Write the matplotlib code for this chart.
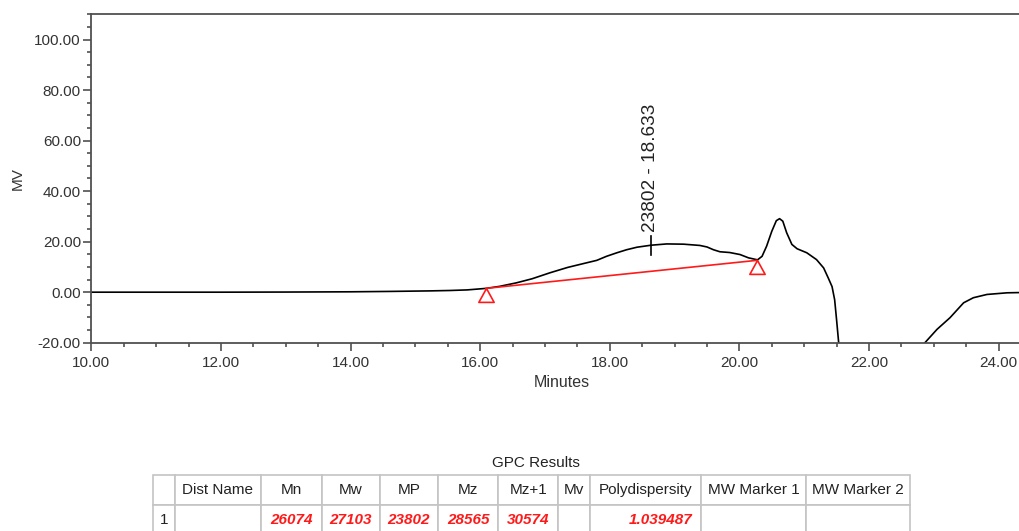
import matplotlib
matplotlib.use('Agg')
import matplotlib.pyplot as plt
from matplotlib.ticker import MultipleLocator, FormatStrFormatter
import numpy as np

plt.rcParams['font.family'] = ['Liberation Sans', 'DejaVu Sans']

# cromatograma (minutos, mV)
minutos = [10.0, 11.0, 12.0, 13.0, 14.0, 14.6, 15.2, 15.535, 15.8, 16.09,
           16.3, 16.56, 16.8, 17.08, 17.35, 17.59, 17.80, 17.95, 18.11, 18.26,
           18.42, 18.64, 18.88, 19.14, 19.39, 19.50, 19.60, 19.70, 19.85, 20.01,
           20.14, 20.28, 20.35, 20.42, 20.50, 20.57, 20.62, 20.67, 20.73, 20.81,
           20.89, 21.04, 21.19, 21.30, 21.37, 21.43, 21.47, 21.50, 21.53, 21.58,
           22.70, 22.87, 23.05, 23.25, 23.46, 23.61, 23.82, 24.13, 24.53]
senal = [0.0, 0.0, 0.0, 0.05, 0.15, 0.3, 0.5, 0.67, 0.9, 1.5,
         2.3, 3.7, 5.3, 7.7, 9.8, 11.3, 12.6, 14.2, 15.6, 16.8,
         17.8, 18.6, 19.1, 19.0, 18.5, 17.9, 16.8, 16.0, 15.7, 14.9,
         13.6, 12.8, 14.2, 18.2, 24.1, 28.3, 29.1, 28.1, 23.5, 18.9,
         17.2, 15.6, 12.9, 9.6, 5.7, 2.2, -3.0, -11.0, -19.4, -30.0,
         -24.5, -19.8, -14.7, -10.1, -4.2, -2.2, -0.9, -0.25, -0.05]

# linea base y marcas de integracion
base_t = [16.09, 20.27]
base_v = [1.5, 12.6]

# pico
t_pico = 18.633
v_pico = 18.6

# resultados GPC
encabezados = ['', 'Dist Name', 'Mn', 'Mw', 'MP', 'Mz', 'Mz+1', 'Mv',
               'Polydispersity', 'MW Marker 1', 'MW Marker 2']
resultados = ['1', '', '26074', '27103', '23802', '28565', '30574', '',
              '1.039487', '', '']
anchos = [22.3, 85.7, 61, 58.3, 58.3, 60, 60, 31.7, 111, 105, 104]

fig = plt.figure(figsize=(10.19, 5.31), dpi=100)
ax = fig.add_axes([0.0896, 0.3546, 0.9241, 0.6185])

ax.plot(minutos, senal, color='black', lw=1.2, solid_joinstyle='round')
ax.plot(base_t, base_v, color='#ff1a1a', lw=1.2)
tri = [(0, 0), (-0.55, -1), (0.55, -1), (0, 0)]
ax.plot(base_t, base_v, ls='none', marker=tri, ms=20, mfc='none',
        mec='#ff1a1a', mew=1.2)

# marca del pico con su etiqueta
ax.plot([t_pico, t_pico], [v_pico - 3.8, v_pico + 3.7], color='black', lw=1.2)
ax.text(t_pico, v_pico + 5.4, f"{resultados[4]} - {t_pico:.3f}", rotation=90,
        ha='center', va='bottom', fontsize=13.7, color='#222222')

ax.set_xlim(10, 24.53)
ax.set_ylim(-20, 110)
ax.xaxis.set_major_locator(MultipleLocator(2))
ax.xaxis.set_minor_locator(MultipleLocator(0.5))
ax.yaxis.set_major_locator(MultipleLocator(20))
ax.yaxis.set_minor_locator(MultipleLocator(5))
ax.xaxis.set_major_formatter(FormatStrFormatter('%.2f'))
ax.yaxis.set_major_formatter(FormatStrFormatter('%.2f'))
ax.tick_params(which='major', length=5.5, width=1.2, color='#505050',
               labelsize=11, labelcolor='#333333', pad=2)
ax.tick_params(which='minor', length=3, width=1.2, color='#505050')
ax.tick_params(axis='x', which='major', pad=4)
for lado in ['left', 'bottom', 'top']:
    ax.spines[lado].set_color('#505050')
    ax.spines[lado].set_linewidth(1.3)
ax.spines['right'].set_visible(False)
ax.set_xlabel('Minutes', fontsize=11.5, color='#333333', labelpad=4)
ax.set_ylabel('MV', fontsize=11, color='#333333', labelpad=7)

# tabla de resultados
axt = fig.add_axes([152.7 / 1019, -4 / 531, 757.3 / 1019, 60 / 531])
axt.axis('off')
tabla = axt.table(cellText=[encabezados, resultados], colWidths=anchos,
                  bbox=[0, 0, 1, 1])
tabla.auto_set_font_size(False)
tabla.set_fontsize(11)
for (fila, col), celda in tabla.get_celld().items():
    celda.set_edgecolor('#c4c4c4')
    celda.set_linewidth(1.2)
    texto = celda.get_text()
    if fila == 0:
        celda._loc = 'center'
        texto.set_ha('center')
        texto.set_color('#222222')
    elif col == 0:
        celda._loc = 'left'
        celda.PAD = 7 / anchos[col]
        texto.set_ha('left')
        texto.set_color('#222222')
    else:
        celda._loc = 'right'
        celda.PAD = 8.5 / anchos[col]
        texto.set_color('#ff1a1a')
        texto.set_fontweight('bold')
        texto.set_fontstyle('italic')
axt.text((536 - 152.7) / 757.3, 1 + 12 / 60, 'GPC Results', ha='center',
         va='center', fontsize=11, color='#222222', transform=axt.transAxes)

fig.savefig('out.png', dpi=100)
